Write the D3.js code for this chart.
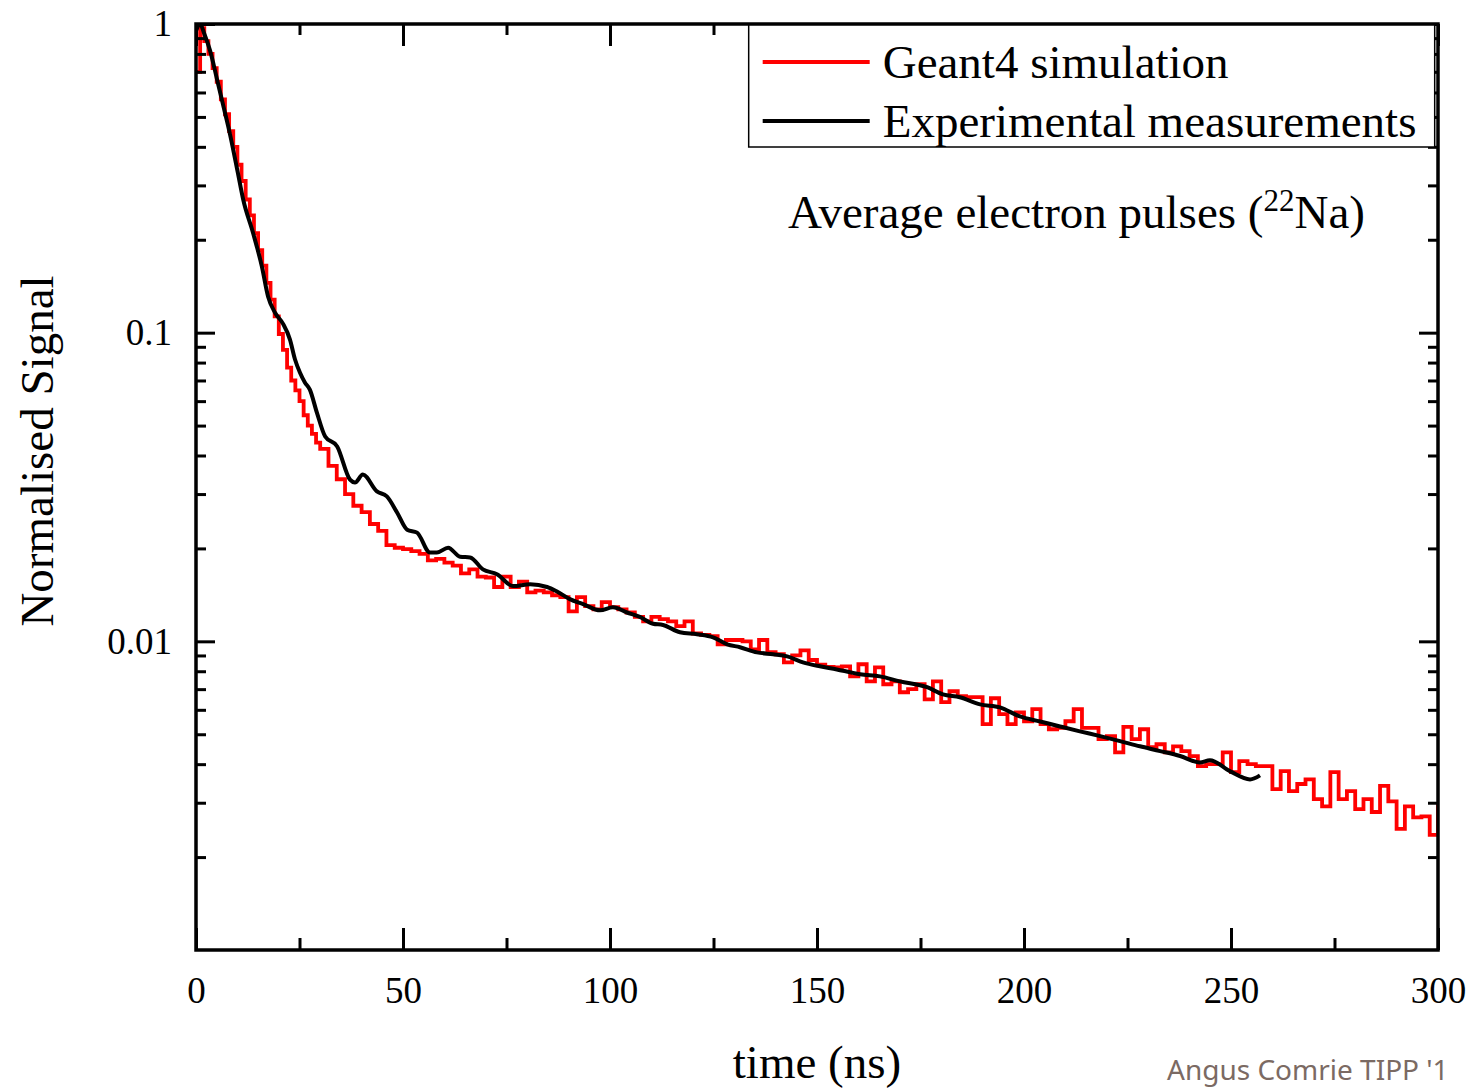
<!DOCTYPE html>
<html>
<head>
<meta charset="utf-8">
<script src="https://cdn.jsdelivr.net/npm/d3@7"></script>
<style>
  body { margin: 0; background: #fff; }
  svg { display: block; }
  .serif { font-family: "Liberation Serif", "Times New Roman", serif; }
</style>
</head>
<body>
<div id="plot"></div>
<script>
// pulse shape data

// Geant4 simulation, histogram bin starts (ns) and normalised signal
const simTime = [
  0, 1, 2, 3, 4, 5, 6, 7, 8, 9,
  10, 11, 12, 13, 14, 15, 16, 17, 18, 19,
  20, 21, 22, 23, 24, 25, 26, 27, 28, 29,
  30, 32, 34, 36, 38, 40, 42, 44, 46, 48,
  50, 52, 54, 56, 58, 60, 62, 64, 66, 68,
  70, 72, 74, 76, 78, 80, 82, 84, 86, 88,
  90, 92, 94, 96, 98, 100, 102, 104, 106, 108,
  110, 112, 114, 116, 118, 120, 122, 124, 126, 128,
  130, 132, 134, 136, 138, 140, 142, 144, 146, 148,
  150, 152, 154, 156, 158, 160, 162, 164, 166, 168,
  170, 172, 174, 176, 178, 180, 182, 184, 186, 188,
  190, 192, 194, 196, 198, 200, 202, 204, 206, 208,
  210, 212, 214, 216, 218, 220, 222, 224, 226, 228,
  230, 232, 234, 236, 238, 240, 242, 244, 246, 248,
  250, 252, 254, 256, 258, 260, 262, 264, 266, 268,
  270, 272, 274, 276, 278, 280, 282, 284, 286, 288,
  290, 292, 294, 296, 298, 300
];
const simValue = [
  0.70, 0.97, 0.88, 0.80, 0.72, 0.65, 0.57, 0.51, 0.45, 0.40,
  0.35, 0.31, 0.27, 0.24, 0.21, 0.185, 0.165, 0.145, 0.128, 0.113,
  0.099, 0.088, 0.077, 0.070, 0.065, 0.060, 0.054, 0.050, 0.047, 0.044,
  0.0420, 0.0370, 0.0335, 0.0300, 0.0275, 0.0262, 0.0240, 0.0228, 0.0205, 0.0201,
  0.0199, 0.0196, 0.0192, 0.0183, 0.0185, 0.0180, 0.0176, 0.0166, 0.0171, 0.0162,
  0.0161, 0.0150, 0.0162, 0.0150, 0.0156, 0.0144, 0.0146, 0.0144, 0.0141, 0.0139,
  0.0125, 0.0139, 0.0130, 0.0127, 0.0134, 0.0129, 0.0127, 0.0124, 0.0120, 0.0116,
  0.0120, 0.0118, 0.0116, 0.0112, 0.0116, 0.0106, 0.0105, 0.0104, 0.00977, 0.0101,
  0.0101, 0.0100, 0.00942, 0.0101, 0.00922, 0.00908, 0.00855, 0.00900, 0.00935, 0.00870,
  0.00840, 0.00827, 0.00824, 0.00830, 0.00770, 0.00843, 0.00742, 0.00824, 0.00726, 0.00742,
  0.00684, 0.00700, 0.00726, 0.00649, 0.00742, 0.00635, 0.00689, 0.00664, 0.00660, 0.00660,
  0.00539, 0.00654, 0.00581, 0.00539, 0.00589, 0.00551, 0.00603, 0.00539, 0.00519, 0.00524,
  0.00551, 0.00603, 0.00524, 0.00524, 0.00482, 0.00493, 0.00437, 0.00528, 0.00482, 0.00519,
  0.00454, 0.00464, 0.00437, 0.00457, 0.00441, 0.00425, 0.00394, 0.00400, 0.00400, 0.00437,
  0.00377, 0.00409, 0.00400, 0.00394, 0.00394, 0.00332, 0.00380, 0.00327, 0.00345, 0.00357,
  0.00308, 0.00292, 0.00377, 0.00308, 0.00327, 0.00286, 0.00308, 0.00280, 0.00340, 0.00303,
  0.00247, 0.00292, 0.00269, 0.00271, 0.00236, 0.00300
];

// experimental measurements (ns, normalised signal)
const expTime = [
  0, 1, 2, 3.4, 5.1, 6.5, 8.2, 10.1, 11.4, 13.8,
  15.9, 17.4, 19.1, 21, 22.7, 23.9, 25.1, 26.3, 27.5, 29.2,
  31.2, 34.1, 37.2, 38.4, 40.3, 43.7, 46.1, 48.6, 51.0, 53.4,
  56.5, 58.2, 60.9, 63.8, 66.2, 69.3, 72.7, 76.6, 80.7, 84.8,
  87.2, 90.3, 93.5, 97.6, 100.7, 104.1, 107.2, 110.4, 112.8, 116.9,
  121.0, 124.9, 128.3, 131.4, 135.5, 139.4, 142.8, 146.6, 150.7, 154.8,
  158.0, 160.4, 165.2, 170.0, 176.6, 180.4, 184.5, 189.4, 194.2, 199.0,
  203.9, 208.7, 213.5, 218.4, 223.2, 228.0, 232.9, 237.7, 242.5, 244.9,
  249.8, 254.6, 257.0
];
const expValue = [
  0.95, 1.0, 0.93, 0.82, 0.66, 0.55, 0.44, 0.33, 0.27, 0.21,
  0.164, 0.131, 0.116, 0.107, 0.095, 0.082, 0.0743, 0.069, 0.0654, 0.0551,
  0.0461, 0.0428, 0.0334, 0.0327, 0.0347, 0.0306, 0.0295, 0.0261, 0.0230, 0.0225,
  0.0194, 0.0194, 0.0201, 0.0188, 0.0187, 0.0171, 0.0165, 0.0151, 0.0153, 0.0150,
  0.0145, 0.0137, 0.0132, 0.0126, 0.0129, 0.0124, 0.0120, 0.0114, 0.0113, 0.0107,
  0.01054, 0.0103, 0.00978, 0.00957, 0.00921, 0.00908, 0.00894, 0.00855, 0.00830, 0.00811,
  0.00794, 0.00782, 0.00770, 0.00742, 0.00710, 0.00673, 0.00659, 0.00625, 0.00611, 0.00571,
  0.00550, 0.00530, 0.00511, 0.00493, 0.00475, 0.00457, 0.00441, 0.00425, 0.00405, 0.00412,
  0.00379, 0.00357, 0.00368
];

const xMajor = [0, 50, 100, 150, 200, 250, 300];
const xMinor = [25, 75, 125, 175, 225, 275];
const yMajor = [1, 0.1, 0.01];
const yMajorLabels = ["1", "0.1", "0.01"];
const yMinor = [0.002, 0.003, 0.004, 0.005, 0.006, 0.007, 0.008, 0.009,
  0.02, 0.03, 0.04, 0.05, 0.06, 0.07, 0.08, 0.09,
  0.2, 0.3, 0.4, 0.5, 0.6, 0.7, 0.8, 0.9];

const seriesNames = ["Geant4 simulation", "Experimental measurements"];
const seriesColors = ["#ff0000", "#000000"];

const w = 1480;
const h = 1090;
const margin = {top: 24, right: 42, bottom: 140, left: 196};
const innerWidth = w - margin.left - margin.right;
const innerHeight = h - margin.top - margin.bottom;

const svg = d3.select("div#plot")
    .append("svg")
    .attr("width", w)
    .attr("height", h);

const xScale = d3.scaleLinear()
    .domain([0, 300])
    .range([0, innerWidth]);

const yScale = d3.scaleLog()
    .domain([0.001, 1])
    .range([innerHeight, 0]);

const g = svg.append("g")
    .attr("transform", `translate(${margin.left}, ${margin.top})`);

g.append("clipPath")
    .attr("id", "clip")
  .append("rect")
    .attr("width", innerWidth)
    .attr("height", innerHeight);

// data lines
const simData = simTime.map((t, i) => [t, simValue[i]]);
const expData = expTime.map((t, i) => [t, expValue[i]]);

const stepLine = d3.line()
    .x(d => xScale(d[0]))
    .y(d => yScale(d[1]))
    .curve(d3.curveStepAfter);

const smoothLine = d3.line()
    .x(d => xScale(d[0]))
    .y(d => yScale(d[1]))
    .curve(d3.curveMonotoneX);

const lines = g.append("g").attr("clip-path", "url(#clip)");

lines.append("path")
    .datum(simData)
    .attr("d", stepLine)
    .attr("fill", "none")
    .attr("stroke", seriesColors[0])
    .attr("stroke-width", 3.8);

lines.append("path")
    .datum(expData)
    .attr("d", smoothLine)
    .attr("fill", "none")
    .attr("stroke", seriesColors[1])
    .attr("stroke-width", 4)
    .attr("stroke-linejoin", "round");

// axes, ticks pointing inward
function styleAxis(sel) {
  sel.select(".domain").remove();
  sel.selectAll("line").attr("stroke", "#000").attr("stroke-width", 3);
  sel.selectAll("text")
      .attr("class", "serif")
      .attr("fill", "#000")
      .style("font-size", "37px");
}

// ticks only, no label text
function tickOnly(sel) {
  sel.select(".domain").remove();
  sel.selectAll("text").remove();
  sel.selectAll("line").attr("stroke", "#000").attr("stroke-width", 3);
}

g.append("g")
    .attr("transform", `translate(0, ${innerHeight})`)
    .call(d3.axisBottom(xScale).tickValues(xMajor).tickSize(-22).tickPadding(27).tickFormat(d3.format("d")))
    .call(styleAxis);

g.append("g")
    .attr("transform", `translate(0, ${innerHeight})`)
    .call(d3.axisBottom(xScale).tickValues(xMinor).tickSize(-12))
    .call(tickOnly);

g.append("g")
    .call(d3.axisTop(xScale).tickValues(xMajor).tickSize(-22))
    .call(tickOnly);

g.append("g")
    .call(d3.axisTop(xScale).tickValues(xMinor).tickSize(-11))
    .call(tickOnly);

g.append("g")
    .call(d3.axisLeft(yScale).tickValues(yMajor).tickSize(-19).tickPadding(24)
      .tickFormat((d, i) => yMajorLabels[i]))
    .call(styleAxis);

g.append("g")
    .call(d3.axisLeft(yScale).tickValues(yMinor).tickSize(-10))
    .call(tickOnly);

g.append("g")
    .attr("transform", `translate(${innerWidth}, 0)`)
    .call(d3.axisRight(yScale).tickValues(yMajor).tickSize(-19))
    .call(tickOnly);

g.append("g")
    .attr("transform", `translate(${innerWidth}, 0)`)
    .call(d3.axisRight(yScale).tickValues(yMinor).tickSize(-10))
    .call(tickOnly);

// legend
const legend = g.append("g")
    .attr("transform", `translate(${xScale(133.5)}, 0)`);

legend.append("rect")
    .attr("width", 686)
    .attr("height", 123)
    .attr("fill", "#fff")
    .attr("stroke", "#000")
    .attr("stroke-width", 1.5);

seriesNames.forEach((name, i) => {
  legend.append("line")
      .attr("x1", 14)
      .attr("x2", 121)
      .attr("y1", 38 + i * 59)
      .attr("y2", 38 + i * 59)
      .attr("stroke", seriesColors[i])
      .attr("stroke-width", 4);
  legend.append("text")
      .attr("class", "serif")
      .attr("x", 134)
      .attr("y", 54 + i * 59)
      .style("font-size", "47px")
      .text(name);
});

// frame
g.append("rect")
    .attr("width", innerWidth)
    .attr("height", innerHeight)
    .attr("fill", "none")
    .attr("stroke", "#000")
    .attr("stroke-width", 3.5);

// annotation
const note = svg.append("text")
    .attr("class", "serif")
    .attr("x", 788)
    .attr("y", 228)
    .style("font-size", "47px");
note.append("tspan").text("Average electron pulses (");
note.append("tspan").attr("dy", -17).style("font-size", "31px").text("22");
note.append("tspan").attr("dy", 17).text("Na)");

// axis titles
svg.append("text")
    .attr("class", "serif")
    .attr("x", margin.left + xScale(150))
    .attr("y", 1078)
    .attr("text-anchor", "middle")
    .style("font-size", "47px")
    .text("time (ns)");

svg.append("text")
    .attr("class", "serif")
    .attr("transform", `translate(53, ${margin.top + 427}) rotate(-90)`)
    .attr("text-anchor", "middle")
    .style("font-size", "47px")
    .text("Normalised Signal");

svg.append("text")
    .attr("x", 1167)
    .attr("y", 1080)
    .attr("fill", "#7b6a63")
    .style("font-family", "'Noto Sans', sans-serif")
    .style("font-size", "28px")
    .text("Angus Comrie TIPP '1");
</script>
</body>
</html>
